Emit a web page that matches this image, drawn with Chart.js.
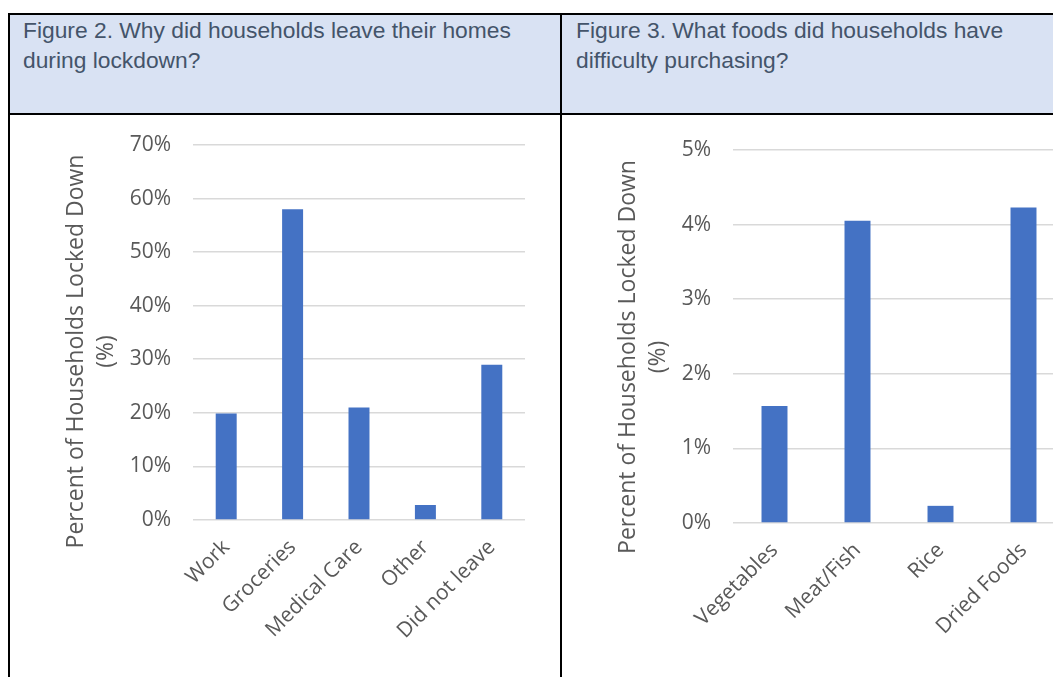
<!DOCTYPE html>
<html>
<head>
<meta charset="utf-8">
<script src="https://cdn.jsdelivr.net/npm/chart.js@4.4.1/dist/chart.umd.min.js"></script>
<style>
    html, body { margin: 0; padding: 0; background: #fff; width: 1053px; height: 677px; overflow: hidden; }
    .line { position: absolute; background: #000; }
    .head { position: absolute; top: 15px; height: 98px; background: #D9E2F3; }
    .title { position: absolute; top: 15px; font-family: "Liberation Sans", Arial, sans-serif; font-size: 22.8px; line-height: 30px; color: #44546A; white-space: nowrap; }
    canvas { position: absolute; top: 115px; }
</style>
</head>
<body>

<div class="head" style="left:10px; width:550px;"></div>
<div class="head" style="left:562px; width:520px;"></div>

<div class="line" style="left:8px; top:13px; width:1100px; height:2px;"></div>
<div class="line" style="left:8px; top:113px; width:1100px; height:2px;"></div>
<div class="line" style="left:8px; top:13px; width:2px; height:700px;"></div>
<div class="line" style="left:560px; top:13px; width:2px; height:700px;"></div>

<div class="title" style="left:23px;">Figure 2. Why did households leave their homes<br>during lockdown?</div>
<div class="title" style="left:576px;">Figure 3. What foods did households have<br>difficulty purchasing?</div>

<canvas id="leaveChart" width="550" height="562" style="left:10px;"></canvas>
<canvas id="foodChart" width="520" height="562" style="left:562px;"></canvas>

<script>
// Figure 2
const leaveLabels = ["Work", "Groceries", "Medical Care", "Other", "Did not leave"];
const leaveValues = [19.9, 58.0, 21.0, 2.8, 29.0];
const leaveMax = 70;
const leaveStep = 10;

// Figure 3
const foodLabels = ["Vegetables", "Meat/Fish", "Rice", "Dried Foods"];
const foodValues = [1.57, 4.05, 0.23, 4.23];
const foodMax = 5;
const foodStep = 1;

const yTitleLines = ["Percent of Households Locked Down", "(%)"];

const BLUE = "#4472C4";
const GREY = "#595959";

// titre vertical de l'axe Y, centré un peu plus bas que la zone du graphique
const yTitlePlugin = {
    id: "yTitle",
    afterDraw(chart, args, opts) {
        const { ctx, chartArea } = chart;
        const cy = (chartArea.top + chartArea.bottom) / 2 + opts.shift;
        ctx.save();
        ctx.font = "23px 'Open Sans'";
        ctx.fillStyle = GREY;
        ctx.textAlign = "center";
        ctx.textBaseline = "middle";
        opts.lines.forEach(function (line, i) {
            ctx.save();
            ctx.translate(opts.x + i * 30, cy);
            ctx.rotate(-Math.PI / 2);
            ctx.fillText(line, 0, 0);
            ctx.restore();
        });
        ctx.restore();
    }
};

function drawBarChart(id, labels, values, max, step, cfg) {
    const ctx = document.getElementById(id).getContext("2d");
    return new Chart(ctx, {
        type: "bar",
        data: {
            labels: labels,
            datasets: [{
                data: values,
                backgroundColor: BLUE,
                categoryPercentage: 1,
                barPercentage: cfg.barPct
            }]
        },
        options: {
            responsive: false,
            animation: false,
            layout: {
                padding: { top: cfg.top, right: cfg.right, left: 0, bottom: 0 }
            },
            plugins: {
                legend: { display: false },
                tooltip: { enabled: false },
                yTitle: { lines: yTitleLines, x: 66.5, shift: cfg.shift }
            },
            scales: {
                x: {
                    grid: { display: false },
                    border: { display: false },
                    afterFit: function (s) {
                        s.height = cfg.xHeight;
                        s.paddingLeft = 0;
                        s.paddingRight = 0;
                    },
                    ticks: {
                        color: GREY,
                        font: { family: "Open Sans", size: 21 },
                        minRotation: 45,
                        maxRotation: 45,
                        autoSkip: false,
                        padding: 7
                    }
                },
                y: {
                    min: 0,
                    max: max,
                    grid: { color: "#d9d9d9", lineWidth: 1.6, drawTicks: false },
                    border: { display: false },
                    // la marge des étiquettes ne doit pas réduire la zone du graphique
                    afterFit: function (s) {
                        s.width = cfg.yWidth;
                        s.paddingTop = 0;
                        s.paddingBottom = 0;
                    },
                    ticks: {
                        stepSize: step,
                        color: GREY,
                        font: { family: "Open Sans", size: 21 },
                        padding: 22,
                        callback: function (value) { return value + "%"; }
                    }
                }
            }
        },
        plugins: [yTitlePlugin]
    });
}

drawBarChart("leaveChart", leaveLabels, leaveValues, leaveMax, leaveStep,
    { barPct: 0.316, top: 30, right: 35, xHeight: 157, yWidth: 183, shift: 19 });

drawBarChart("foodChart", foodLabels, foodValues, foodMax, foodStep,
    { barPct: 0.313, top: 35, right: 17, xHeight: 154, yWidth: 171, shift: 20.5 });
</script>
</body>
</html>
